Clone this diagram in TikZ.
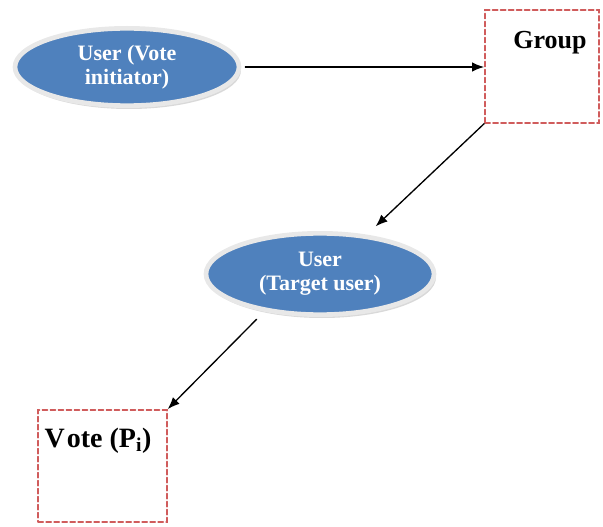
\documentclass[tikz,border=0pt]{standalone}
\usepackage{fontspec}
\setmainfont{Liberation Serif}
\usetikzlibrary{shapes.geometric,shadows,arrows.meta}
\definecolor{userblue}{RGB}{79,129,189}
\definecolor{boxred}{RGB}{208,92,92}
\tikzset{
  userell/.style={ellipse, fill=userblue, draw=black!9, line width=3.5pt,
    text=white, align=center, inner sep=0pt, font=\bfseries\fontsize{16.5}{18}\selectfont,
    drop shadow={shadow xshift=1.5pt, shadow yshift=-2.5pt, opacity=0.3}},
  dashbox/.style={draw=boxred, line width=1.3pt, dash pattern=on 3.8pt off 2.2pt},
  boxtext/.style={font=\bfseries\fontsize{19.5}{22}\selectfont},
  flow/.style={-{Latex[length=9pt,width=7pt]}, line width=1pt}
}
\begin{document}
\begin{tikzpicture}[x=0.75pt,y=-0.75pt,line cap=round]
  \useasboundingbox (0,0) rectangle (603,527);
  % users
  \node[userell, minimum width=168pt, minimum height=58pt] (init) at (127,67) {User (Vote\\initiator)};
  \node[userell, minimum width=171pt, minimum height=61pt] (target) at (320,274) {User\\(Target user)};
  % boxes
  \node[dashbox, minimum width=85.5pt, minimum height=84.5pt] (group) at (542,66.5) {};
  \node[boxtext] (grouptxt) at (550,43) {Group};
  \node[dashbox, minimum width=96.5pt, minimum height=84pt] (vote) at (102.5,466) {};
  \node[boxtext, anchor=west, font=\bfseries\fontsize{21}{24}\selectfont] (votetxt) at (40,441) {V\kern1.5pt ote (P\textsubscript{i})};
  % connectors
  \draw[flow, shorten <=3pt] (init.east) -- (init.east -| group.west);
  \draw[flow, shorten >=9pt] (group.south west) -- (target.40);
  \draw[flow, shorten <=8pt] (target.214) -- (vote.north east);
\end{tikzpicture}
\end{document}
